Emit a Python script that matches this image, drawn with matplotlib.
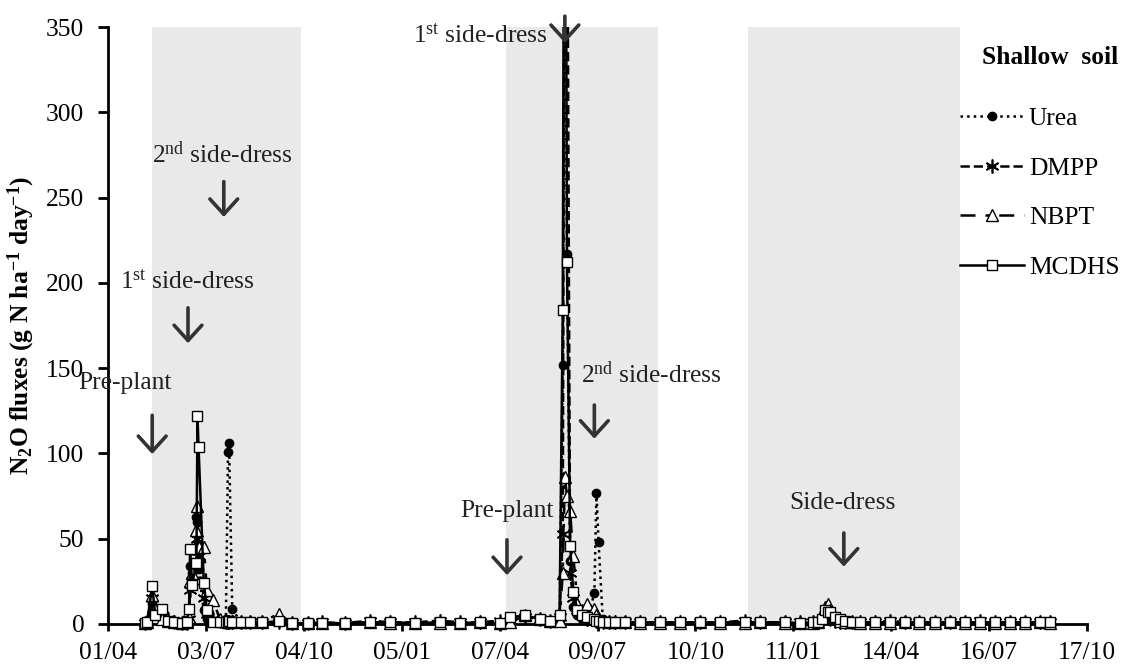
import numpy as np
import pandas as pd
import matplotlib
matplotlib.use("Agg")
import matplotlib.pyplot as plt
import matplotlib.dates as mdates
from matplotlib.patches import Rectangle

plt.rcParams['font.family'] = 'Liberation Serif'
plt.rcParams['mathtext.fontset'] = 'custom'
plt.rcParams['mathtext.rm'] = 'Liberation Serif'
plt.rcParams['mathtext.it'] = 'Liberation Serif:italic'
plt.rcParams['mathtext.bf'] = 'Liberation Serif:bold'

FS = 18.4

# ---- data (days after 01/04/2015, N2O flux in g N/ha/day) ----
START = pd.Timestamp('2015-04-01')
days = [35, 37, 42, 45, 51, 57, 63, 70, 75, 77,
        78, 80, 84, 85, 86, 91, 94, 100, 106, 112,
        114, 115, 118, 126, 135, 146, 162, 175, 190,
        203, 225, 249, 268, 292, 315, 334, 353, 372,
        382, 396, 410, 420, 429, 432, 434, 436, 439, 442,
        446, 450, 455, 462, 464, 466, 470, 476, 482, 491,
        505, 524, 543, 562, 581, 605, 619, 643, 657,
        670, 674, 678, 681, 684, 686, 691, 695, 700, 707,
        714, 729, 743, 757, 770, 786, 800, 814, 828, 843,
        857, 871, 885, 895]

urea = [0.5, 1, 12, 8, 4, 2, 1, 0.5, 1, 8,
        34, 30, 63, 60, 32, 8, 3, 2, 2, 3,
        101, 106, 9, 1, 1, 0.5, 1, 0.5, 0,
        0.5, 0.3, 1, 0.5, 0.5, 0, 0, 0.5, 0,
        2, 4, 3, 2, 3, 152, 420, 217, 37, 10,
        5, 3, 2, 18, 77, 48, 3, 1, 1, 0.5,
        0.5, 0.5, 0, 0.5, 0.5, 0.5, 0.5, 0, 0.5,
        0.5, 1, 2, 4, 5, 3, 2, 1, 1, 0.5,
        0.5, 0.5, 0.5, 0.5, 0.5, 0.5, 0.5, 0, 0.5, 0.5,
        0.5, 0, 0.5, 0.5]

dmpp = [0.5, 1, 15, 7, 5, 3, 1, 0.5, 0.5, 3,
        20, 25, 35, 50, 40, 15, 6, 3, 2, 1,
        1, 1, 1, 1, 1, 1, 1, 0.5, 0.5,
        1, 0.5, 2, 1, 1, 2, 1, 1, 2,
        2, 4, 3, 2, 4, 53, 520, 480, 30, 15,
        8, 5, 3, 3, 2, 2, 1, 1, 1, 1,
        1, 1, 1, 1, 1, 2, 1, 1, 1,
        1, 1, 2, 4, 5, 3, 2, 1, 1, 1,
        1, 1, 2, 1, 1, 1, 1, 1, 2, 1,
        1, 1, 1, 1]

nbpt = [0.5, 1, 17, 9, 3, 2, 1, 0.5, 1, 4,
        25, 30, 55, 69, 45, 45, 20, 14, 3, 2,
        1, 1, 2, 1, 1, 1, 6, 0.5, 0.5,
        0.5, 0.5, 1, 0.5, 0.5, 0.5, 0.5, 1, 0.5,
        1, 5, 3, 2, 2, 30, 86, 75, 66, 40,
        12, 8, 12, 9, 5, 3, 2, 1, 1, 1,
        0.5, 0.5, 0.5, 1, 0.5, 0.5, 1, 0.5, 0.5,
        0.5, 1, 5, 10, 12, 8, 4, 2, 1, 1,
        0.5, 0.5, 0.5, 1, 0.5, 0.5, 1, 0.5, 0.5, 0.5,
        0.5, 0.5, 1, 0.5]

mcdhs = [0.5, 1, 22, 5, 9, 2, 1, 0.5, 1, 9,
         44, 23, 36, 122, 104, 24, 8, 1, 1, 1,
         1, 1.5, 1, 1, 1, 1, 1.5, 0.5, 0.5,
         0.5, 0.5, 1, 1, 0.5, 1, 0.5, 1, 0.5,
         4, 5, 3, 2, 5, 184, 620, 212, 46, 19,
         8, 5, 4, 3, 2, 2, 1, 1, 1, 1,
         1, 1, 1, 1, 1, 1, 1, 1, 0.5,
         1, 1, 3, 8, 7, 7, 4, 3, 2, 1,
         1, 1, 1, 1, 1, 1, 1, 1, 1, 1,
         1, 1, 1, 1]

# growing seasons (shaded), as day offsets
seasons = [(42, 183), (378, 522), (608, 809)]

# fertiliser events: (label, text day, text y, arrow day, arrow tail y, arrow head y, ha)
events = [
    ('Pre-plant', 16, 141, 42, 124, 98, 'center'),
    ('1$^{\\rm st}$ side-dress', 75, 201, 76, 187, 163, 'center'),
    ('2$^{\\rm nd}$ side-dress', 109, 275, 110, 261, 237, 'center'),
    ('Pre-plant', 379, 66, 379, 51, 27, 'center'),
    ('1$^{\\rm st}$ side-dress', 418, 345, 434, 358, 339, 'right'),
    ('2$^{\\rm nd}$ side-dress', 449, 146, 462, 130, 107, 'left'),
    ('Side-dress', 698, 71, 699, 55, 32, 'center'),
]

xdates = START + pd.to_timedelta(days, unit='D')
to_date = lambda d: START + pd.Timedelta(days=d)

fig = plt.figure(figsize=(11.27, 6.71), dpi=100)
ax = fig.add_axes([108 / 1127, 1 - 624 / 671, 979 / 1127, 597 / 671])

for a, b in seasons:
    ax.axvspan(to_date(a), to_date(b), color='#e9e9e9', zorder=0, lw=0)

# let markers sitting on zero show fully below the x axis line
clip = Rectangle((0, -0.05), 1, 1.05, transform=ax.transAxes, visible=False)
ax.add_patch(clip)

styles = [
    ('Urea', urea, dict(ls=':', marker='o', mfc='black', ms=6)),
    ('DMPP', dmpp, dict(ls='--', marker=(6, 2, 0), mfc='black', ms=10, mew=1.2)),
    ('NBPT', nbpt, dict(ls=(0, (6, 4, 1.5, 4)), marker='^', mfc='white', ms=8)),
    ('MCDHS', mcdhs, dict(ls='-', marker='s', mfc='white', ms=7)),
]
handles = []
for name, vals, st in styles:
    ln, = ax.plot(xdates, vals, color='black', mec='black', lw=1.8, label=name, zorder=3, **st)
    ln.set_clip_path(clip)
    handles.append(ln)

for txt, tx, ty, axd, y0, y1, ha in events:
    ax.text(to_date(tx), ty, txt, fontsize=FS, ha=ha, va='center', color='#222222', zorder=5)
    ax.annotate('', xy=(to_date(axd), y1), xytext=(to_date(axd), y0),
                arrowprops=dict(arrowstyle='->,head_length=0.55,head_width=0.5',
                                lw=2.6, color='#333333', mutation_scale=20),
                annotation_clip=False, zorder=6)

ax.set_xlim(START, to_date(930))
ax.set_ylim(0, 350)
ax.set_xticks(pd.date_range(START, periods=11, freq='93D'))
ax.xaxis.set_major_formatter(mdates.DateFormatter('%d/%m'))
ax.set_yticks(np.arange(0, 351, 50))
ax.tick_params(axis='y', labelsize=FS, direction='out', length=7, width=2, pad=10)
ax.tick_params(axis='x', labelsize=FS, direction='out', length=5, width=2, pad=8)
for s in ['top', 'right']:
    ax.spines[s].set_visible(False)
for s in ['left', 'bottom']:
    ax.spines[s].set_linewidth(2)

ax.set_ylabel('N$_\\mathbf{2}$O fluxes (g N ha$^\\mathbf{-1}$ day$^\\mathbf{-1}$)',
              fontsize=FS, fontweight='bold')
ax.yaxis.set_label_coords(-0.0725, 0.5)

fig.text(1050 / 1127, 1 - 57 / 671, 'Shallow  soil', fontsize=FS, fontweight='bold',
         ha='center', va='center')
leg = fig.legend(handles=handles, loc='upper left', bbox_to_anchor=(937 / 1127, 1 - 84 / 671),
                 frameon=False, fontsize=FS, handlelength=2.5, handletextpad=0.2,
                 labelspacing=1.05)

fig.savefig('out.png', dpi=100)
